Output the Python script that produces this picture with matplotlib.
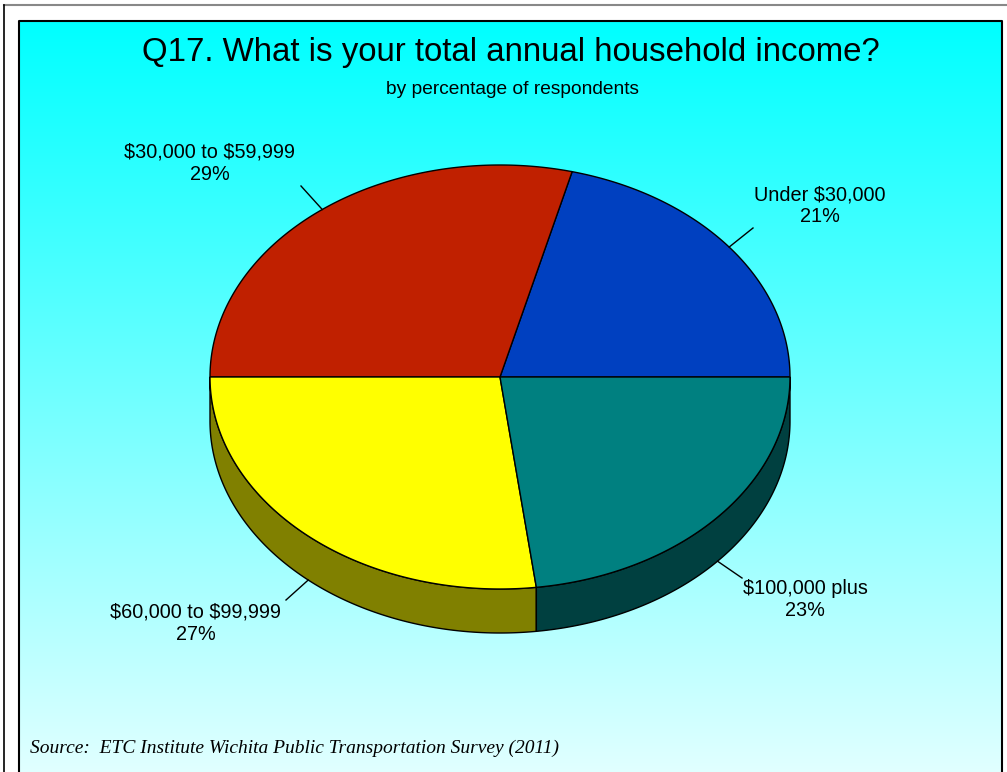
import matplotlib
matplotlib.use("Agg")
import matplotlib.pyplot as plt
import numpy as np
from matplotlib.patches import Polygon

# data
labels = ["Under $30,000", "$30,000 to $59,999", "$60,000 to $99,999", "$100,000 plus"]
shares = [21, 29, 27, 23]
top_colors = ["#0040C0", "#C02000", "#FFFF00", "#008080"]
side_colors = ["#002060", "#601000", "#808000", "#004040"]

# layout (pixels)
cx, cy, rx, ry, depth = 500, 377, 290, 212, 44
text_pos = [(820, 206), (210, 163), (196, 623), (805, 600)]
leader_end = [(753, 228), (301, 186), (286, 600), (742, 578)]

plt.rcParams['font.family'] = ['Liberation Sans', 'DejaVu Sans']
plt.rcParams['text.parse_math'] = False

fig = plt.figure(figsize=(10.07, 7.72), dpi=100)
ax = fig.add_axes([0, 0, 1, 1])
ax.set_xlim(0, 1007)
ax.set_ylim(772, 0)
ax.axis('off')

# background panel with vertical gradient
grad = np.linspace(0, 1, 256)[:, None]
top_c = np.array([0.0, 1.0, 1.0])
bot_c = np.array([0.88, 1.0, 1.0])
img = top_c[None, None, :] * (1 - grad[:, :, None]) + bot_c[None, None, :] * grad[:, :, None]
ax.imshow(img, extent=(19, 1002, 772, 21), aspect='auto', zorder=0)
ax.plot([19, 19, 1002, 1002], [772, 21, 21, 772], color='black', lw=1.5, zorder=1)
# outer frame
ax.plot([4, 1007], [5, 5], color='#888888', lw=1.5, zorder=1)
ax.plot([4, 4], [5, 772], color='black', lw=1.2, zorder=1)


def ellipse_pts(t0, t1, dz=0):
    t = np.radians(np.linspace(t0, t1, 200))
    return np.column_stack([cx + rx * np.cos(t), cy - ry * np.sin(t) + dz])


bounds = np.concatenate([[0], np.cumsum(shares)]) * 3.6
mids = (bounds[:-1] + bounds[1:]) / 2

# side faces (front half only)
for i in range(len(shares)):
    a, b = max(bounds[i], 180), min(bounds[i + 1], 360)
    if b <= a:
        continue
    top = ellipse_pts(a, b)
    bot = ellipse_pts(b, a, depth)
    ax.add_patch(Polygon(np.vstack([top, bot]), closed=True, facecolor=side_colors[i],
                         edgecolor='black', lw=1, zorder=2))

# top faces
for i in range(len(shares)):
    pts = np.vstack([[cx, cy], ellipse_pts(bounds[i], bounds[i + 1])])
    ax.add_patch(Polygon(pts, closed=True, facecolor=top_colors[i],
                         edgecolor='black', lw=1, zorder=3))

# labels and leader lines
for i in range(len(shares)):
    t = np.radians(mids[i])
    x0 = cx + rx * np.cos(t)
    y0 = cy - ry * np.sin(t)
    if np.sin(t) < 0:
        y0 += depth
    ax.plot([x0, leader_end[i][0]], [y0, leader_end[i][1]], color='black', lw=1, zorder=4)
    ax.text(text_pos[i][0], text_pos[i][1], f"{labels[i]}\n{shares[i]}%", ha='center', va='center',
            fontsize=14.3, linespacing=1.2, zorder=5)

ax.text(511, 52, "Q17. What is your total annual household income?", ha='center', va='center',
        fontsize=23.8, zorder=5)
ax.text(513, 89, "by percentage of respondents", ha='center', va='center', fontsize=13.8, zorder=5)
ax.text(30, 748, "Source:  ETC Institute Wichita Public Transportation Survey (2011)", ha='left',
        va='center', fontsize=14, style='italic', family=['Liberation Serif', 'DejaVu Serif'], zorder=5)

fig.savefig("out.png", dpi=100)
